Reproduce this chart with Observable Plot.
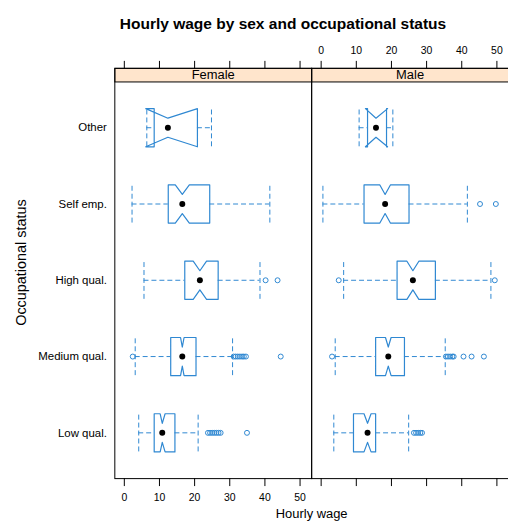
<!DOCTYPE html>
<html><head><meta charset="utf-8">
<script src="https://cdn.jsdelivr.net/npm/d3@7"></script>
<script src="https://cdn.jsdelivr.net/npm/@observablehq/plot@0.6"></script>
<style>
body{margin:0;overflow:hidden;background:#fff;font-family:"Liberation Sans",Arial,sans-serif;}
#title{height:40px;position:relative;}
#title div{position:absolute;left:0;width:566px;text-align:center;top:15px;font-weight:bold;font-size:15.5px;line-height:18px;color:#000;}
</style></head><body>
<div id="title"><div>Hourly wage by sex and occupational status</div></div>
<div id="chart"></div>
<script>
// Categories (bottom to top) and panels
const categories = ["Low qual.", "Medium qual.", "High qual.", "Self emp.", "Other"];
const sexes = ["Female", "Male"];
const xTicks = [0, 10, 20, 30, 40, 50];

// Female statistics (order = categories)
const femaleLower   = [4.1, 3.1, 5.6, 2.2, 6.4];
const femaleQ1      = [8.5, 13.2, 17.2, 12.5, 8.5];
const femaleMedian  = [10.8, 16.5, 21.5, 16.5, 12.4];
const femaleQ3      = [14.4, 20.4, 26.7, 24.3, 20.8];
const femaleUpper   = [21.0, 30.8, 38.6, 41.4, 24.8];
const femaleNotchLo = [10.2, 16.0, 19.6, 14.5, 6.1];
const femaleNotchHi = [11.6, 17.0, 23.4, 18.5, 20.8];
const femaleOutliers = [
  [23.8, 24.4, 25.0, 25.6, 26.2, 26.8, 27.4, 34.9],
  [2.4, 31.1, 31.7, 32.3, 32.9, 33.5, 34.0, 34.6, 44.5],
  [40.2, 43.6],
  [],
  []
];

// Male statistics
const maleLower   = [3.6, 4.0, 6.4, 0.5, 10.8];
const maleQ1      = [9.2, 15.5, 21.6, 12.2, 13.2];
const maleMedian  = [13.2, 19.1, 26.1, 18.2, 15.6];
const maleQ3      = [15.5, 23.7, 32.5, 25.0, 18.6];
const maleUpper   = [24.9, 35.3, 48.3, 41.6, 20.4];
const maleNotchLo = [12.2, 18.3, 24.4, 16.7, 12.6];
const maleNotchHi = [14.2, 19.9, 27.8, 19.7, 18.9];
const maleOutliers = [
  [26.4, 27.0, 27.6, 28.2, 28.7],
  [3.1, 35.5, 36.1, 36.7, 37.3, 37.7, 40.5, 42.8, 46.3],
  [5.0, 49.4],
  [45.2, 49.7],
  []
];

const stats = {
  Female: {lower: femaleLower, q1: femaleQ1, median: femaleMedian, q3: femaleQ3, upper: femaleUpper, nlo: femaleNotchLo, nhi: femaleNotchHi, out: femaleOutliers},
  Male:   {lower: maleLower, q1: maleQ1, median: maleMedian, q3: maleQ3, upper: maleUpper, nlo: maleNotchLo, nhi: maleNotchHi, out: maleOutliers}
};

const boxes = [];
const outliers = [];
sexes.forEach(sex => {
  const s = stats[sex];
  categories.forEach((cat, i) => {
    boxes.push({sex, cat, pos: i + 1, lower: s.lower[i], q1: s.q1[i], median: s.median[i], q3: s.q3[i], upper: s.upper[i], nlo: s.nlo[i], nhi: s.nhi[i]});
    s.out[i].forEach(v => outliers.push({sex, pos: i + 1, value: v}));
  });
});

const H = 0.25, HN = 0.125; // box half-height and notch indent (in category units)
const poly = boxes.flatMap((b, k) => [
  [b.q1, H], [b.nlo, H], [b.median, HN], [b.nhi, H], [b.q3, H],
  [b.q3, -H], [b.nhi, -H], [b.median, -HN], [b.nlo, -H], [b.q1, -H], [b.q1, H]
].map(([x, d]) => ({id: k, sex: b.sex, x, y: b.pos + d})));

const blue = "#2f88d2";
const stripFill = "#ffe5cc";
const dash = "5,3";

const chart = Plot.plot({
  width: 511,
  height: 500,
  marginLeft: 114,
  marginRight: 0,
  marginTop: 28,
  marginBottom: 59.3,
  style: {fontFamily: "'Liberation Sans', Arial, sans-serif", fontSize: "10.5px", background: "white", overflow: "visible", color: "black"},
  fx: {domain: sexes, padding: 0, axis: null},
  x: {domain: [-2.7, 53.3]},
  y: {domain: [0.4, 5.6], range: [440.7, 41.7]},
  marks: [
    Plot.frame({fill: stripFill, stroke: "black", insetBottom: 399}),
    Plot.text(sexes, {fx: d => d, text: d => d, frameAnchor: "top", dy: 7, lineAnchor: "middle", textAnchor: "middle", fontSize: 13}),
    Plot.ruleY(boxes, {fx: "sex", y: "pos", x1: "lower", x2: "q1", stroke: blue, strokeDasharray: dash}),
    Plot.ruleY(boxes, {fx: "sex", y: "pos", x1: "q3", x2: "upper", stroke: blue, strokeDasharray: dash}),
    Plot.ruleX(boxes, {fx: "sex", x: "lower", y1: d => d.pos - H, y2: d => d.pos + H, stroke: blue, strokeDasharray: dash}),
    Plot.ruleX(boxes, {fx: "sex", x: "upper", y1: d => d.pos - H, y2: d => d.pos + H, stroke: blue, strokeDasharray: dash}),
    Plot.line(poly, {fx: "sex", x: "x", y: "y", z: "id", stroke: blue, strokeWidth: 1.2}),
    Plot.dot(outliers, {fx: "sex", x: "value", y: "pos", r: 2.5, stroke: blue, fill: "none", strokeWidth: 1}),
    Plot.dot(boxes, {fx: "sex", x: "median", y: "pos", r: 3, fill: "black", stroke: "none"}),
    Plot.frame({stroke: "black"}),
    Plot.axisX(xTicks, {anchor: "top", tickSize: 8, tickFormat: () => "", label: null}),
    Plot.axisX(xTicks, {anchor: "bottom", tickSize: 8, tickFormat: () => "", label: null}),
    Plot.text(xTicks, {x: d => d, fx: () => "Female", frameAnchor: "bottom", dy: 19.3, lineAnchor: "middle", textAnchor: "middle"}),
    Plot.text(xTicks, {x: d => d, fx: () => "Male", frameAnchor: "top", dy: -17.7, lineAnchor: "middle", textAnchor: "middle"}),
    Plot.axisY([1, 2, 3, 4, 5], {anchor: "left", tickSize: 0, tickPadding: 8, tickFormat: i => categories[i - 1], label: null, fontSize: 11.5}),
    Plot.text(["Occupational status"], {fx: () => "Female", frameAnchor: "left", rotate: -90, dx: -94, dy: -11, lineAnchor: "middle", textAnchor: "middle", fontSize: 14.5}),
    Plot.text(["Hourly wage"], {fx: () => "Female", frameAnchor: "bottom-right", dy: 35.5, lineAnchor: "middle", textAnchor: "middle", fontSize: 13})
  ]
});
document.getElementById("chart").appendChild(chart);
</script>
</body></html>
